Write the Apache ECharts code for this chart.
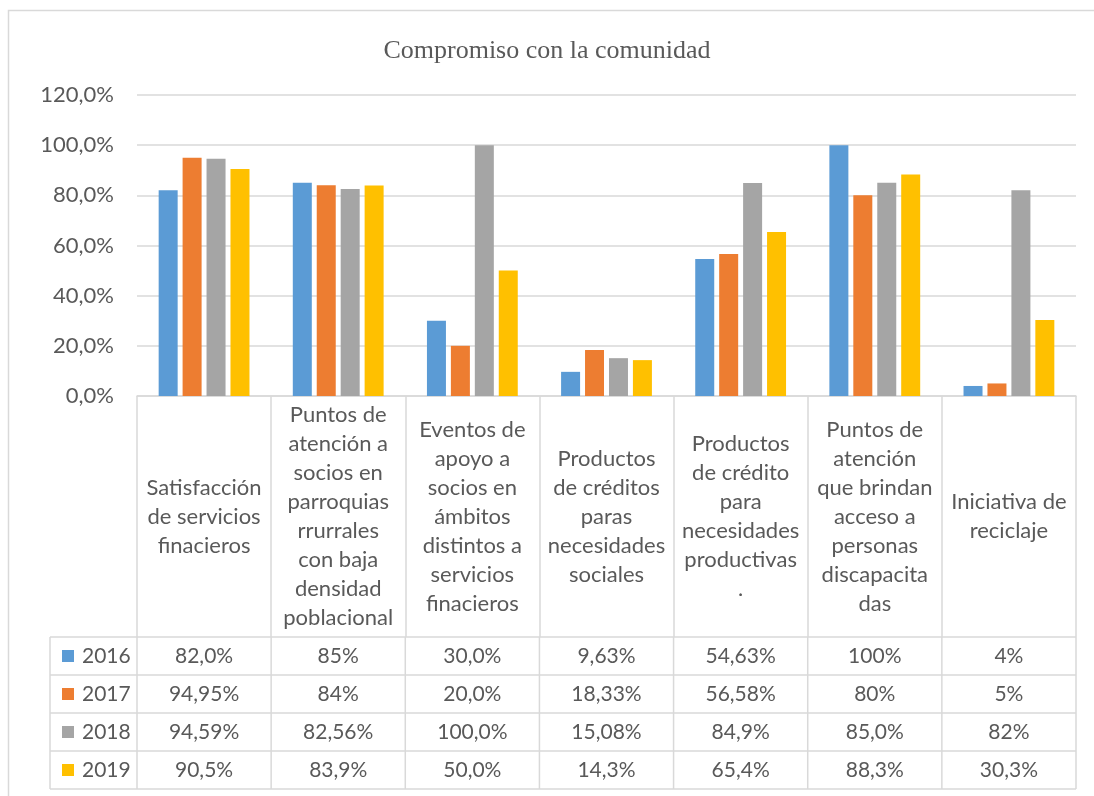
<!DOCTYPE html>
<html>
<head>
<meta charset="utf-8">
<script src="https://cdn.jsdelivr.net/npm/echarts@6/dist/echarts.min.js"></script>
<style>
  html, body { margin: 0; padding: 0; background: #fff; }
  #chart { width: 1094px; height: 796px; }
</style>
</head>
<body>
<div id="chart"></div>
<script>
// categorias (con saltos de linea como en el original)
var categorias = [
  'Satisfacción\nde servicios\nfinacieros',
  'Puntos de\natención a\nsocios en\nparroquias\nrrurrales\ncon baja\ndensidad\npoblacional',
  'Eventos de\napoyo a\nsocios en\námbitos\ndistintos a\nservicios\nfinacieros',
  'Productos\nde créditos\nparas\nnecesidades\nsociales',
  'Productos\nde crédito\npara\nnecesidades\nproductivas\n.',
  'Puntos de\natención\nque brindan\nacceso a\npersonas\ndiscapacita\ndas',
  'Iniciativa de\nreciclaje'
];
var anios = ['2016', '2017', '2018', '2019'];
var colores = ['#5B9BD5', '#ED7D31', '#A5A5A5', '#FFC000'];

var v2016 = [82.0, 85, 30.0, 9.63, 54.63, 100, 4];
var v2017 = [94.95, 84, 20.0, 18.33, 56.58, 80, 5];
var v2018 = [94.59, 82.56, 100.0, 15.08, 84.9, 85.0, 82];
var v2019 = [90.5, 83.9, 50.0, 14.3, 65.4, 88.3, 30.3];

// textos de la tabla de datos
var t2016 = ['82,0%', '85%', '30,0%', '9,63%', '54,63%', '100%', '4%'];
var t2017 = ['94,95%', '84%', '20,0%', '18,33%', '56,58%', '80%', '5%'];
var t2018 = ['94,59%', '82,56%', '100,0%', '15,08%', '84,9%', '85,0%', '82%'];
var t2019 = ['90,5%', '83,9%', '50,0%', '14,3%', '65,4%', '88,3%', '30,3%'];

var valores = [v2016, v2017, v2018, v2019];
var textos = [t2016, t2017, t2018, t2019];

var FUENTE = 'Lato, "Open Sans", sans-serif';
var GRIS = '#d9d9d9';
var TEXTO = '#595959';
var ALTO_CAT = 241;
var ALTO_FILA = 38;

var chart = echarts.init(document.getElementById('chart'));

var series = anios.map(function (a, i) {
  return {
    name: a,
    type: 'bar',
    barWidth: 19,
    barGap: '26%',
    itemStyle: { color: colores[i] },
    data: valores[i]
  };
});

chart.setOption({
  animation: false,
  title: {
    text: 'Compromiso con la comunidad',
    left: 'center',
    top: 33,
    textStyle: {
      fontFamily: '"Liberation Serif", serif',
      fontSize: 26,
      fontWeight: 'normal',
      color: TEXTO
    }
  },
  grid: { left: 137, right: 18, top: 95, bottom: 400 },
  xAxis: {
    type: 'category',
    data: categorias,
    axisLine: { lineStyle: { color: GRIS, width: 1.5 } },
    axisTick: { show: true, length: ALTO_CAT, lineStyle: { color: GRIS, width: 1.5 } },
    axisLabel: {
      interval: 0,
      margin: ALTO_CAT / 2,
      verticalAlign: 'middle',
      fontFamily: FUENTE,
      fontSize: 22,
      lineHeight: 29,
      color: TEXTO
    }
  },
  yAxis: {
    type: 'value',
    min: 0,
    max: 120,
    interval: 20,
    axisLine: { show: false },
    axisTick: { show: false },
    splitLine: { lineStyle: { color: GRIS, width: 1.5 } },
    axisLabel: {
      margin: 23,
      fontFamily: FUENTE,
      fontSize: 22,
      color: TEXTO,
      formatter: function (v) { return v.toFixed(1).replace('.', ',') + '%'; }
    }
  },
  series: series
});

// tabla de datos bajo el eje
function dibujarTabla() {
  var c0 = chart.convertToPixel({ xAxisIndex: 0 }, 0);
  var c1 = chart.convertToPixel({ xAxisIndex: 0 }, 1);
  var banda = c1 - c0;
  var izqEje = c0 - banda / 2;
  var derEje = izqEje + banda * categorias.length;
  var y0 = chart.convertToPixel({ yAxisIndex: 0 }, 0) + ALTO_CAT;
  var izqTabla = 50;
  var graf = [];
  var linea = { stroke: GRIS, lineWidth: 1.5 };

  for (var r = 0; r <= anios.length; r++) {
    var y = y0 + r * ALTO_FILA;
    graf.push({ type: 'line', shape: { x1: izqTabla, y1: y, x2: derEje, y2: y }, style: linea });
  }
  var yFin = y0 + anios.length * ALTO_FILA;
  graf.push({ type: 'line', shape: { x1: izqTabla, y1: y0, x2: izqTabla, y2: yFin }, style: linea });
  for (var k = 0; k <= categorias.length; k++) {
    var x = izqEje + k * banda;
    graf.push({ type: 'line', shape: { x1: x, y1: y0, x2: x, y2: yFin }, style: linea });
  }

  anios.forEach(function (a, i) {
    var yc = y0 + i * ALTO_FILA + ALTO_FILA / 2;
    graf.push({ type: 'rect', shape: { x: 62, y: yc - 6, width: 12, height: 12 }, style: { fill: colores[i] } });
    graf.push({
      type: 'text', x: 82, y: yc,
      style: { text: a, fontFamily: FUENTE, fontSize: 21, fill: TEXTO, verticalAlign: 'middle', align: 'left' }
    });
    textos[i].forEach(function (t, j) {
      graf.push({
        type: 'text', x: c0 + j * banda, y: yc,
        style: { text: t, fontFamily: FUENTE, fontSize: 21, fill: TEXTO, verticalAlign: 'middle', align: 'center' }
      });
    });
  });

  // marco exterior
  graf.push({ type: 'rect', shape: { x: 8.5, y: 10.5, width: 1200, height: 900 }, style: { fill: 'none', stroke: GRIS, lineWidth: 1.5 } });

  chart.setOption({ graphic: graf });
}

dibujarTabla();
</script>
</body>
</html>
